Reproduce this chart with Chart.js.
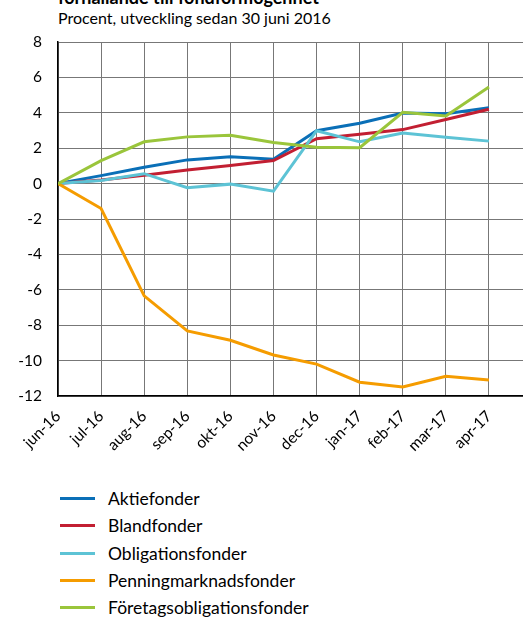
<!DOCTYPE html>
<html>
<head>
<meta charset="utf-8">
<script src="https://cdn.jsdelivr.net/npm/chart.js@4"></script>
<style>
  html, body { margin: 0; padding: 0; background: #fff; overflow: hidden; }
  body { width: 523px; height: 619px; position: relative; font-family: Lato, 'Open Sans', sans-serif; color: #000; }
  #title { position: absolute; left: 58px; top: -14px; font-size: 18px; font-weight: bold; white-space: nowrap; }
  #subtitle { position: absolute; left: 58px; top: 8px; font-size: 16px; white-space: nowrap; }
  #wrap { position: absolute; left: 0; top: 0; width: 523px; height: 470px; }
  #legend { position: absolute; left: 60px; top: 485px; font-size: 17.5px; }
  .item { height: 27.3px; display: flex; align-items: center; }
  .swatch { width: 35px; height: 3px; margin-right: 13px; }
</style>
</head>
<body>
<div id="title">förhållande till fondförmögenhet</div>
<div id="subtitle">Procent, utveckling sedan 30 juni 2016</div>
<div id="wrap"><canvas id="lineChart"></canvas></div>
<div id="legend"></div>
<script>
// månader
const months = ['jun-16', 'jul-16', 'aug-16', 'sep-16', 'okt-16', 'nov-16', 'dec-16', 'jan-17', 'feb-17', 'mar-17', 'apr-17'];

const aktiefonder = [0, 0.45, 0.92, 1.34, 1.51, 1.38, 2.99, 3.41, 3.99, 3.95, 4.28];
const blandfonder = [0, 0.2, 0.47, 0.77, 1.02, 1.3, 2.54, 2.79, 3.05, 3.62, 4.2];
const obligationsfonder = [0, 0.17, 0.56, -0.23, -0.03, -0.43, 2.99, 2.36, 2.86, 2.62, 2.4];
const penningmarknadsfonder = [0, -1.41, -6.34, -8.32, -8.85, -9.68, -10.2, -11.22, -11.49, -10.88, -11.09];
const foretagsobligationsfonder = [0, 1.3, 2.36, 2.64, 2.73, 2.32, 2.06, 2.03, 4.03, 3.82, 5.46];

const yTicks = [-12, -10, -8, -6, -4, -2, 0, 2, 4, 6, 8];

const series = [
    { label: 'Aktiefonder', values: aktiefonder, color: '#0A6FB7' },
    { label: 'Blandfonder', values: blandfonder, color: '#C21F32' },
    { label: 'Obligationsfonder', values: obligationsfonder, color: '#5DC3D5' },
    { label: 'Penningmarknadsfonder', values: penningmarknadsfonder, color: '#F59C00' },
    { label: 'Företagsobligationsfonder', values: foretagsobligationsfonder, color: '#9AC53B' }
];

const gridColor = '#777';
const font = 'Lato';

const ctx = document.getElementById('lineChart').getContext('2d');
const chart = new Chart(ctx, {
    type: 'line',
    data: {
        datasets: series.map((s, i) => ({
            label: s.label,
            data: s.values.map((v, j) => ({ x: j, y: v })),
            borderColor: s.color,
            backgroundColor: s.color,
            borderWidth: 3,
            pointRadius: 0,
            tension: 0,
            order: series.length - i // senare serie ritas överst
        }))
    },
    options: {
        responsive: true,
        maintainAspectRatio: false,
        animation: false,
        layout: { padding: { left: 0, right: 0, top: 42, bottom: 0 } },
        plugins: {
            legend: { display: false },
            tooltip: { enabled: false }
        },
        scales: {
            x: {
                type: 'linear',
                min: 0,
                max: 10.79,
                grid: { color: gridColor, lineWidth: 1, drawTicks: false },
                border: { color: '#000', width: 1.5 },
                ticks: {
                    stepSize: 1,
                    includeBounds: false,
                    autoSkip: false,
                    minRotation: 45,
                    maxRotation: 45,
                    padding: 11,
                    color: '#000',
                    font: { family: font, size: 15.5 },
                    callback: v => months[v] ?? ''
                },
                afterFit: scale => { scale.height = 470 - 396; }
            },
            y: {
                min: -12,
                max: 8,
                grid: { color: gridColor, lineWidth: 1, drawTicks: false },
                border: { color: '#000', width: 1.5 },
                afterBuildTicks: scale => { scale.ticks = yTicks.map(v => ({ value: v })); },
                ticks: {
                    padding: 16,
                    color: '#000',
                    font: { family: font, size: 15.5 }
                },
                afterFit: scale => { scale.width = 58; }
            }
        }
    }
});

// egen legend, en rad per serie
const legend = document.getElementById('legend');
series.forEach(s => {
    const row = document.createElement('div');
    row.className = 'item';
    row.innerHTML = `<span class="swatch" style="background:${s.color}"></span><span>${s.label}</span>`;
    legend.appendChild(row);
});
</script>
</body>
</html>
